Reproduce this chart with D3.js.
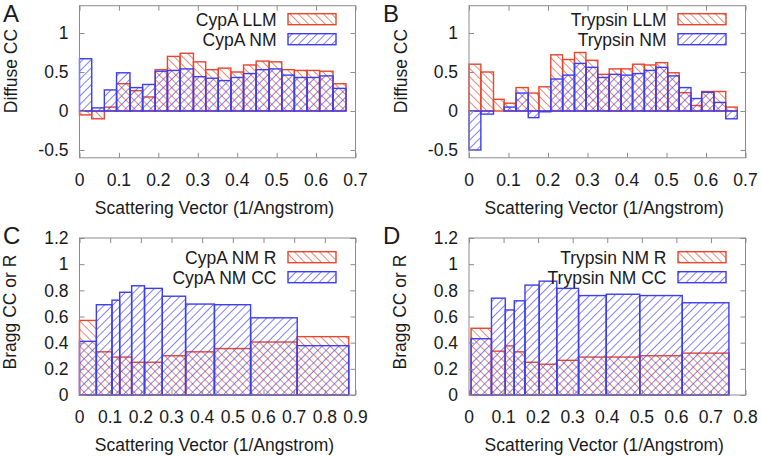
<!DOCTYPE html>
<html>
<head>
<meta charset="utf-8">
<script src="https://cdn.jsdelivr.net/npm/d3@7"></script>
<style>
  html, body { margin: 0; padding: 0; background: #fff; }
  svg { display: block; }
  text { font-family: "Liberation Sans", Arial, Helvetica, sans-serif; fill: #1a1a1a; }
</style>
</head>
<body>
<svg id="chart" width="762" height="457"></svg>
<script>
// ---------- DATA ----------
// Panel A: CypA diffuse CC per resolution bin
const edgesA = [0, 0.031, 0.063, 0.094, 0.128, 0.160, 0.192, 0.223, 0.255, 0.289, 0.320, 0.352, 0.384, 0.416, 0.448, 0.481, 0.513, 0.545, 0.577, 0.609, 0.643, 0.676];
const cypaLLM = [-0.05, -0.10, 0.05, 0.35, 0.26, 0.18, 0.53, 0.70, 0.74, 0.63, 0.53, 0.55, 0.50, 0.59, 0.64, 0.63, 0.53, 0.52, 0.52, 0.51, 0.35];
const cypaNM  = [0.67, 0.04, 0.27, 0.49, 0.30, 0.34, 0.51, 0.52, 0.54, 0.44, 0.42, 0.39, 0.43, 0.48, 0.53, 0.54, 0.46, 0.43, 0.43, 0.45, 0.29];

// Panel B: Trypsin diffuse CC per resolution bin
const edgesB = [0, 0.030, 0.062, 0.089, 0.119, 0.150, 0.177, 0.207, 0.237, 0.267, 0.296, 0.326, 0.355, 0.385, 0.414, 0.444, 0.473, 0.503, 0.532, 0.562, 0.589, 0.620, 0.650, 0.679];
const trypLLM = [0.60, 0.50, 0.15, 0.10, 0.30, 0.23, 0.31, 0.72, 0.66, 0.75, 0.65, 0.47, 0.54, 0.54, 0.60, 0.59, 0.62, 0.49, 0.235, 0.07, 0.25, 0.25, 0.05];
const trypNM  = [-0.50, -0.04, 0.00, 0.05, 0.23, -0.085, -0.01, 0.41, 0.46, 0.61, 0.56, 0.43, 0.47, 0.46, 0.48, 0.52, 0.56, 0.45, 0.30, 0.16, 0.24, 0.11, -0.10];

// Panel C: CypA Bragg R and CC per resolution shell
const edgesC = [0, 0.055, 0.106, 0.131, 0.170, 0.212, 0.270, 0.346, 0.440, 0.558, 0.710, 0.878];
const cypaR  = [0.57, 0.33, 0.29, 0.29, 0.25, 0.25, 0.30, 0.33, 0.355, 0.405, 0.446];
const cypaCC = [0.41, 0.69, 0.725, 0.785, 0.835, 0.815, 0.755, 0.695, 0.69, 0.59, 0.377];

// Panel D: Trypsin Bragg R and CC per resolution shell
const edgesD = [0.006, 0.065, 0.105, 0.131, 0.162, 0.203, 0.254, 0.317, 0.397, 0.494, 0.617, 0.752];
const trypR  = [0.51, 0.335, 0.375, 0.33, 0.25, 0.235, 0.265, 0.29, 0.29, 0.30, 0.32];
const trypCC = [0.43, 0.74, 0.65, 0.72, 0.84, 0.87, 0.815, 0.76, 0.77, 0.76, 0.705];

// Tick labels
const xTicksTop = [0, 0.1, 0.2, 0.3, 0.4, 0.5, 0.6, 0.7];
const xTicksC = [0, 0.1, 0.2, 0.3, 0.4, 0.5, 0.6, 0.7, 0.8, 0.9];
const xTicksD = [0, 0.1, 0.2, 0.3, 0.4, 0.5, 0.6, 0.7, 0.8];
const yTicksTop = [-0.5, 0, 0.5, 1];
const yTicksBottom = [0, 0.2, 0.4, 0.6, 0.8, 1, 1.2];

// ---------- STYLE ----------
const RED = "#e4472d";
const BLUE = "#3d3df0";
const FONT = 17.5;

const svg = d3.select("#chart");
const defs = svg.append("defs");

function makeHatch(id, color, angle) {
  const s = 5.9;
  const p = defs.append("pattern")
    .attr("id", id)
    .attr("patternUnits", "userSpaceOnUse")
    .attr("width", s).attr("height", s)
    .attr("patternTransform", `rotate(${angle})`);
  p.append("line")
    .attr("x1", 0.5).attr("y1", -1).attr("x2", 0.5).attr("y2", s + 1)
    .attr("stroke", color).attr("stroke-width", 0.75).attr("stroke-opacity", 0.85);
}
makeHatch("hatchRed", RED, -45);
makeHatch("hatchBlue", BLUE, 45);

function fmt(v) { return String(v); }

function drawPanel(cfg) {
  const g = svg.append("g");
  const x = d3.scaleLinear().domain(cfg.xDomain).range([cfg.left, cfg.right]);
  const y = d3.scaleLinear().domain(cfg.yDomain).range([cfg.bottom, cfg.top]);

  // bars
  cfg.series.forEach(s => {
    const data = s.values.map((v, i) => ({ x0: cfg.edges[i], x1: cfg.edges[i + 1], v }));
    g.append("g").selectAll("rect").data(data).join("rect")
      .attr("x", d => x(d.x0))
      .attr("width", d => x(d.x1) - x(d.x0))
      .attr("y", d => Math.min(y(d.v), y(0)))
      .attr("height", d => Math.abs(y(d.v) - y(0)))
      .attr("fill", `url(#${s.pattern})`)
      .attr("stroke", s.color)
      .attr("stroke-width", 1.4);
  });

  // frame with inward ticks on all sides (via d3 axes)
  const tickLen = -5;
  const axB = d3.axisBottom(x).tickValues(cfg.xTicks).tickSizeInner(tickLen).tickSizeOuter(0).tickFormat("");
  const axT = d3.axisTop(x).tickValues(cfg.xTicks).tickSizeInner(tickLen).tickSizeOuter(0).tickFormat("");
  const axL = d3.axisLeft(y).tickValues(cfg.yTicks).tickSizeInner(tickLen).tickSizeOuter(0).tickFormat("");
  const axR = d3.axisRight(y).tickValues(cfg.yTicks).tickSizeInner(tickLen).tickSizeOuter(0).tickFormat("");
  const frame = g.append("g");
  frame.append("g").attr("transform", `translate(0,${cfg.bottom})`).call(axB);
  frame.append("g").attr("transform", `translate(0,${cfg.top})`).call(axT);
  frame.append("g").attr("transform", `translate(${cfg.left},0)`).call(axL);
  frame.append("g").attr("transform", `translate(${cfg.right},0)`).call(axR);
  frame.selectAll("path.domain").remove();
  frame.selectAll("line").attr("stroke", "#8c8c8c").attr("stroke-width", 1);
  frame.selectAll(".tick").filter(function() {
    // hide ticks that would land on the frame edge
    return false;
  });
  g.append("rect")
    .attr("x", cfg.left).attr("y", cfg.top)
    .attr("width", cfg.right - cfg.left).attr("height", cfg.bottom - cfg.top)
    .attr("fill", "none").attr("stroke", "#8c8c8c").attr("stroke-width", 1);

  // tick labels
  g.append("g").selectAll("text").data(cfg.xTicks).join("text")
    .attr("x", d => x(d)).attr("y", cfg.bottom + 28)
    .attr("text-anchor", "middle").attr("font-size", FONT)
    .text(fmt);
  g.append("g").selectAll("text").data(cfg.yTicks).join("text")
    .attr("x", cfg.left - 11).attr("y", d => y(d)).attr("dy", "0.36em")
    .attr("text-anchor", "end").attr("font-size", FONT)
    .text(fmt);

  // axis titles
  g.append("text")
    .attr("x", (cfg.left + cfg.right) / 2 - 3).attr("y", cfg.bottom + 56)
    .attr("text-anchor", "middle").attr("font-size", FONT)
    .text("Scattering Vector (1/Angstrom)");
  g.append("text")
    .attr("transform", `translate(${cfg.ytx},${cfg.yty}) rotate(-90)`)
    .attr("text-anchor", "middle").attr("font-size", FONT)
    .text(cfg.yTitle);

  // panel letter
  g.append("text")
    .attr("x", cfg.letterX).attr("y", cfg.letterY)
    .attr("font-size", 24)
    .text(cfg.letter);

  // legend
  const lg = g.append("g");
  cfg.series.forEach((s, i) => {
    const cy = cfg.legendY + i * 20;
    lg.append("text")
      .attr("x", cfg.right - 79).attr("y", cy).attr("dy", "0.36em")
      .attr("text-anchor", "end").attr("font-size", FONT)
      .text(s.label);
    lg.append("rect")
      .attr("x", cfg.right - 67.5).attr("y", cy - 5.5)
      .attr("width", 48).attr("height", 11)
      .attr("fill", `url(#${s.pattern})`)
      .attr("stroke", s.color).attr("stroke-width", 1.4);
  });
}

const TOP_Y = { top: 5.7, bottom: 157.8, yDomain: [-0.6, 1.35] };
const BOT_Y = { top: 238, bottom: 395, yDomain: [0, 1.2] };

drawPanel({
  letter: "A", letterX: 3, letterY: 22,
  left: 79.5, right: 355.5, ...TOP_Y,
  xDomain: [0, 0.7], xTicks: xTicksTop, yTicks: yTicksTop,
  edges: edgesA,
  yTitle: "Diffuse CC", ytx: 17, yty: 71,
  legendY: 19.2,
  series: [
    { label: "CypA LLM", values: cypaLLM, color: RED, pattern: "hatchRed" },
    { label: "CypA NM", values: cypaNM, color: BLUE, pattern: "hatchBlue" }
  ]
});

drawPanel({
  letter: "B", letterX: 383, letterY: 22,
  left: 469, right: 745.5, ...TOP_Y,
  xDomain: [0, 0.7], xTicks: xTicksTop, yTicks: yTicksTop,
  edges: edgesB,
  yTitle: "Diffuse CC", ytx: 407, yty: 71,
  legendY: 19.2,
  series: [
    { label: "Trypsin LLM", values: trypLLM, color: RED, pattern: "hatchRed" },
    { label: "Trypsin NM", values: trypNM, color: BLUE, pattern: "hatchBlue" }
  ]
});

drawPanel({
  letter: "C", letterX: 3, letterY: 244,
  left: 79.5, right: 355.5, ...BOT_Y,
  xDomain: [0, 0.9], xTicks: xTicksC, yTicks: yTicksBottom,
  edges: edgesC,
  yTitle: "Bragg CC or R", ytx: 16, yty: 312,
  legendY: 257.2,
  series: [
    { label: "CypA NM R", values: cypaR, color: RED, pattern: "hatchRed" },
    { label: "CypA NM CC", values: cypaCC, color: BLUE, pattern: "hatchBlue" }
  ]
});

drawPanel({
  letter: "D", letterX: 383, letterY: 244,
  left: 469, right: 745.5, ...BOT_Y,
  xDomain: [0, 0.8], xTicks: xTicksD, yTicks: yTicksBottom,
  edges: edgesD,
  yTitle: "Bragg CC or R", ytx: 406, yty: 312,
  legendY: 257.2,
  series: [
    { label: "Trypsin NM R", values: trypR, color: RED, pattern: "hatchRed" },
    { label: "Trypsin NM CC", values: trypCC, color: BLUE, pattern: "hatchBlue" }
  ]
});
</script>
</body>
</html>
